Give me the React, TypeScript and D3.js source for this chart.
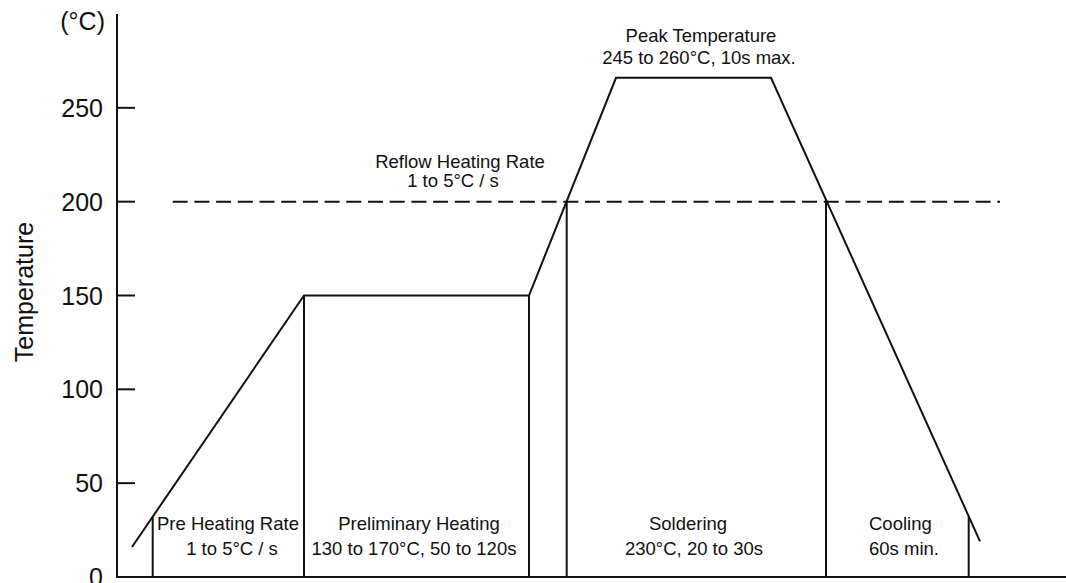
import { useRef, useEffect } from "react";
import * as d3 from "d3";

// reflow profile (time is arbitrary, temp in °C)
const profileTime = [15, 187, 412, 499, 654, 863];
const profileTemp = [16, 150, 150, 266, 266, 19];

// zone boundaries (vertical lines), in the same time units
const zoneEdges = [35.7, 187, 412, 449.7, 709, 851.7];

// dashed reflow threshold
const reflowTemp = 200;
const reflowSpan = [55.7, 883];

const yTicks = [0, 50, 100, 150, 200, 250];

const zoneTitles = [
  "Pre Heating Rate",
  "Preliminary Heating",
  "Soldering",
  "Cooling",
];
const zoneNotes = [
  "1 to 5°C / s",
  "130 to 170°C, 50 to 120s",
  "230°C, 20 to 30s",
  "60s min.",
];

const peakLines = ["Peak Temperature", "245 to 260°C, 10s max."];
const reflowLines = ["Reflow Heating Rate", "1 to 5°C / s"];

const W = 1066;
const H = 583;
const FONT = "'Liberation Sans', Arial, Helvetica, sans-serif";

export default function App() {
  const svgRef = useRef<SVGSVGElement | null>(null);

  useEffect(() => {
    if (!svgRef.current) return;
    const svg = d3.select(svgRef.current);
    svg.selectAll("*").remove();

    const x = d3.scaleLinear().domain([0, 950]).range([117, 1067]);
    const y = d3.scaleLinear().domain([0, 300]).range([577, 14]);

    const ink = "#111";

    // temperature on the profile at a given time (for the zone lines)
    const tempAt = (t: number) => {
      for (let i = 0; i < profileTime.length - 1; i++) {
        const t0 = profileTime[i];
        const t1 = profileTime[i + 1];
        if (t >= t0 && t <= t1) {
          return d3.interpolateNumber(profileTemp[i], profileTemp[i + 1])(
            (t - t0) / (t1 - t0)
          );
        }
      }
      return 0;
    };

    // axes
    svg
      .append("line")
      .attr("x1", x(0))
      .attr("x2", x(0))
      .attr("y1", y(300))
      .attr("y2", y(0))
      .attr("stroke", ink)
      .attr("stroke-width", 2);
    svg
      .append("line")
      .attr("x1", x(0) - 1)
      .attr("x2", W)
      .attr("y1", y(0))
      .attr("y2", y(0))
      .attr("stroke", ink)
      .attr("stroke-width", 2);

    const ticks = svg.append("g");
    ticks
      .selectAll("line")
      .data(yTicks)
      .enter()
      .append("line")
      .attr("x1", x(0))
      .attr("x2", x(0) + 18)
      .attr("y1", (d) => y(d))
      .attr("y2", (d) => y(d))
      .attr("stroke", ink)
      .attr("stroke-width", 2);
    ticks
      .selectAll("text")
      .data(yTicks)
      .enter()
      .append("text")
      .attr("x", 103)
      .attr("y", (d) => y(d))
      .attr("dy", "0.36em")
      .attr("text-anchor", "end")
      .style("font-size", "25px")
      .text((d) => d);

    svg
      .append("text")
      .attr("x", 105)
      .attr("y", 30)
      .attr("text-anchor", "end")
      .style("font-size", "25px")
      .text("(°C)");

    svg
      .append("text")
      .attr("transform", "translate(33,292) rotate(-90)")
      .attr("text-anchor", "middle")
      .style("font-size", "25px")
      .text("Temperature");

    // dashed 200°C line
    svg
      .append("line")
      .attr("x1", x(reflowSpan[0]))
      .attr("x2", x(reflowSpan[1]))
      .attr("y1", y(reflowTemp))
      .attr("y2", y(reflowTemp))
      .attr("stroke", ink)
      .attr("stroke-width", 2)
      .attr("stroke-dasharray", "15,6.7");

    // zone lines
    svg
      .append("g")
      .selectAll("line")
      .data(zoneEdges)
      .enter()
      .append("line")
      .attr("x1", (d) => x(d))
      .attr("x2", (d) => x(d))
      .attr("y1", y(0))
      .attr("y2", (d) => y(tempAt(d)))
      .attr("stroke", ink)
      .attr("stroke-width", 2);

    // profile
    const line = d3
      .line<number>()
      .x((_, i) => x(profileTime[i]))
      .y((d) => y(d));
    svg
      .append("path")
      .attr("d", line(profileTemp))
      .attr("fill", "none")
      .attr("stroke", ink)
      .attr("stroke-width", 2)
      .attr("stroke-linejoin", "miter");

    // zone labels
    const titlePos = [
      { x: 228, y: 530, anchor: "middle" },
      { x: 419, y: 530, anchor: "middle" },
      { x: 688, y: 530, anchor: "middle" },
      { x: 869, y: 530, anchor: "start" },
    ];
    const notePos = [
      { x: 232, y: 555, anchor: "middle" },
      { x: 414, y: 555, anchor: "middle" },
      { x: 694, y: 555, anchor: "middle" },
      { x: 869, y: 555, anchor: "start" },
    ];
    const small = "18.5px";
    zoneTitles.forEach((t, i) => {
      svg
        .append("text")
        .attr("x", titlePos[i].x)
        .attr("y", titlePos[i].y)
        .attr("text-anchor", titlePos[i].anchor)
        .style("font-size", small)
        .text(t);
      svg
        .append("text")
        .attr("x", notePos[i].x)
        .attr("y", notePos[i].y)
        .attr("text-anchor", notePos[i].anchor)
        .style("font-size", small)
        .text(zoneNotes[i]);
    });

    const peakPos = [
      { x: 701, y: 42 },
      { x: 699, y: 64 },
    ];
    peakLines.forEach((t, i) => {
      svg
        .append("text")
        .attr("x", peakPos[i].x)
        .attr("y", peakPos[i].y)
        .attr("text-anchor", "middle")
        .style("font-size", small)
        .text(t);
    });

    const reflowPos = [
      { x: 460, y: 168 },
      { x: 453, y: 187 },
    ];
    reflowLines.forEach((t, i) => {
      svg
        .append("text")
        .attr("x", reflowPos[i].x)
        .attr("y", reflowPos[i].y)
        .attr("text-anchor", "middle")
        .style("font-size", small)
        .text(t);
    });

    svg.selectAll("text").attr("fill", "#111").style("font-family", FONT);
  }, []);

  return (
    <svg
      ref={svgRef}
      width={W}
      height={H}
      viewBox={`0 0 ${W} ${H}`}
      style={{ position: "absolute", left: 0, top: 0, background: "#fff" }}
    />
  );
}
